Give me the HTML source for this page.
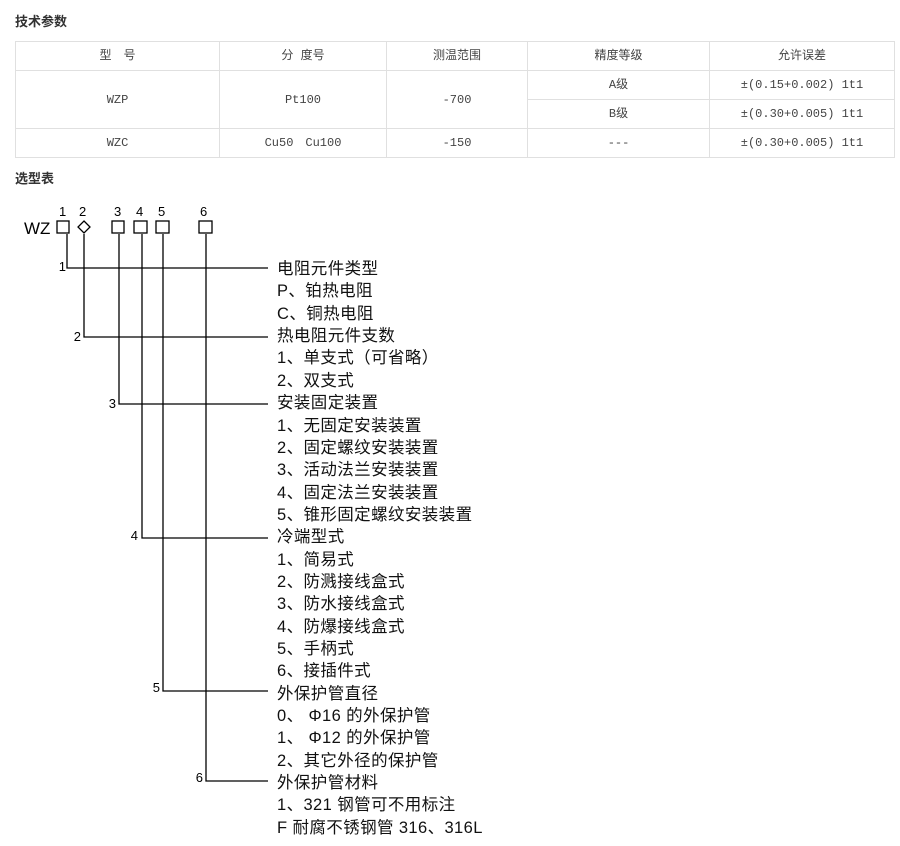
<!DOCTYPE html>
<html><head><meta charset="utf-8"><style>
body{margin:0;background:#fff;width:900px;height:846px;position:relative;overflow:hidden;font-family:"Liberation Sans","Noto Sans CJK SC",sans-serif}
.h{position:absolute;left:15px;font-size:13px;font-weight:bold;color:#333}
table{position:absolute;left:15px;top:41px;width:880px;border-collapse:collapse;table-layout:fixed;font-family:"Liberation Mono","Noto Sans CJK SC",monospace;font-size:12px;color:#444}
td{border:1px solid #e0e0e0;text-align:center;vertical-align:middle;padding:0;line-height:14px;white-space:nowrap}
tr{height:29px}
</style></head><body>
<div class="h" style="top:11px">技术参数</div>
<table>
<tr><td style="width:203px">型　号</td><td style="width:166px">分 度号</td><td style="width:140px">测温范围</td><td style="width:181px">精度等级</td><td>允许误差</td></tr>
<tr><td rowspan="2">WZP</td><td rowspan="2">Pt100</td><td rowspan="2">-700</td><td>A级</td><td>±(0.15+0.002) 1t1</td></tr>
<tr><td>B级</td><td>±(0.30+0.005) 1t1</td></tr>
<tr><td>WZC</td><td>Cu50　Cu100</td><td>-150</td><td>---</td><td>±(0.30+0.005) 1t1</td></tr>
</table>
<div class="h" style="top:168px">选型表</div>
<svg width="900" height="846" style="position:absolute;left:0;top:0" font-family="Liberation Sans,Noto Sans CJK SC,sans-serif">
<g font-size="13" fill="#000">
<text x="59" y="216">1</text><text x="79" y="216">2</text><text x="114" y="216">3</text><text x="136" y="216">4</text><text x="158" y="216">5</text><text x="200" y="216">6</text>
</g>
<text x="24" y="234" font-size="17">WZ</text>
<g fill="none" stroke="#000" stroke-width="1.3">
<rect x="57" y="221" width="12" height="12"/>
<path d="M84 221 L90 227 L84 233 L78 227 Z"/>
<rect x="112" y="221" width="12" height="12"/>
<rect x="134" y="221" width="13" height="12"/>
<rect x="156" y="221" width="13" height="12"/>
<rect x="199" y="221" width="13" height="12"/>
<path d="M67 234V268H268M84 234V337H268M119 234V404H268M142 234V538H268M163 234V691H268M206 234V781H268"/>
</g>
<g font-size="13" fill="#000" text-anchor="end">
<text x="66" y="271">1</text><text x="81" y="341">2</text><text x="116" y="408">3</text><text x="138" y="540">4</text><text x="160" y="692">5</text><text x="203" y="782">6</text>
</g>
<g font-size="16.5" fill="#111" dominant-baseline="central" letter-spacing="0.4">
<text x="277" y="269">电阻元件类型</text>
<text x="277" y="291">P、铂热电阻</text>
<text x="277" y="314">C、铜热电阻</text>
<text x="277" y="336">热电阻元件支数</text>
<text x="277" y="358">1、单支式（可省略）</text>
<text x="277" y="381">2、双支式</text>
<text x="277" y="403">安装固定装置</text>
<text x="277" y="426">1、无固定安装装置</text>
<text x="277" y="448">2、固定螺纹安装装置</text>
<text x="277" y="470">3、活动法兰安装装置</text>
<text x="277" y="493">4、固定法兰安装装置</text>
<text x="277" y="515">5、锥形固定螺纹安装装置</text>
<text x="277" y="537">冷端型式</text>
<text x="277" y="560">1、简易式</text>
<text x="277" y="582">2、防溅接线盒式</text>
<text x="277" y="604">3、防水接线盒式</text>
<text x="277" y="627">4、防爆接线盒式</text>
<text x="277" y="649">5、手柄式</text>
<text x="277" y="671">6、接插件式</text>
<text x="277" y="694">外保护管直径</text>
<text x="277" y="716">0、 Φ16 的外保护管</text>
<text x="277" y="738">1、 Φ12 的外保护管</text>
<text x="277" y="761">2、其它外径的保护管</text>
<text x="277" y="783">外保护管材料</text>
<text x="277" y="805">1、321 钢管可不用标注</text>
<text x="277" y="828">F 耐腐不锈钢管 316、316L</text>
</g>
</svg>
</body></html>
